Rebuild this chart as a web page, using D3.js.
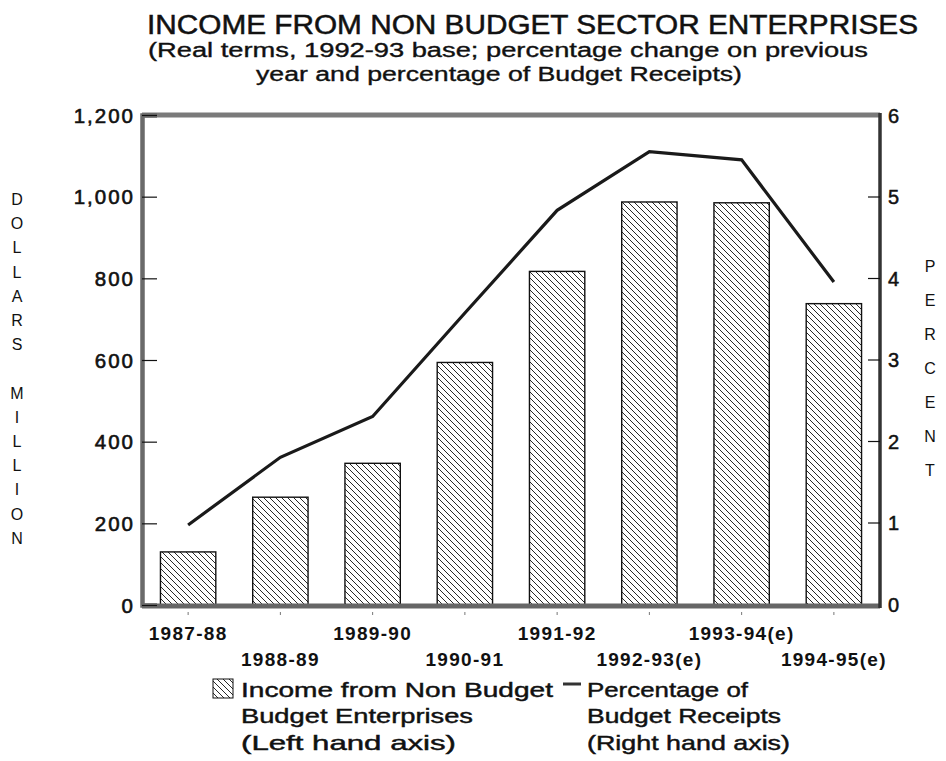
<!DOCTYPE html>
<html>
<head>
<meta charset="utf-8">
<script src="https://cdn.jsdelivr.net/npm/d3@7/dist/d3.min.js"></script>
<style>
  html, body { margin: 0; padding: 0; background: #fff; }
  svg { display: block; font-family: "Liberation Sans", Arial, Helvetica, sans-serif; }
</style>
</head>
<body>
<svg id="chart" width="946" height="761"></svg>
<script>
// Financial years shown along the bottom axis
const years = ["1987-88", "1988-89", "1989-90", "1990-91", "1991-92",
               "1992-93(e)", "1993-94(e)", "1994-95(e)"];
// Income from non budget sector enterprises, $ million (left axis)
const income = [130, 264, 347, 594, 817, 987, 985, 738];
// Percentage of budget receipts (right axis)
const pctReceipts = [0.97, 1.8, 2.3, 3.57, 4.83, 5.55, 5.45, 3.95];
// Axis tick values
const leftTicks = [0, 200, 400, 600, 800, 1000, 1200];
const rightTicks = [0, 1, 2, 3, 4, 5, 6];

const svg = d3.select("#chart");
const plot = { left: 142, right: 880, top: 115, bottom: 605 };
const ink = "#111";

const x = d3.scaleBand().domain(years)
  .range([plot.left, plot.right]).paddingInner(0.4).paddingOuter(0.2);
const yL = d3.scaleLinear().domain([0, 1200]).range([plot.bottom, plot.top]);
const yR = d3.scaleLinear().domain([0, 6]).range([plot.bottom - 1, plot.top]);
const cx = d => x(d) + x.bandwidth() / 2;

// Diagonal hatch used for the bars and the legend swatch
const defs = svg.append("defs");
const pat = defs.append("pattern").attr("id", "hatch")
  .attr("patternUnits", "userSpaceOnUse").attr("width", 6).attr("height", 6);
pat.append("rect").attr("width", 6).attr("height", 6).attr("fill", "#fff");
pat.append("path").attr("d", "M-1,-1 L7,7 M-4,2 L4,10 M2,-4 L10,4")
  .attr("stroke", ink).attr("stroke-width", 0.9);

// Text helper: fixed width lines, slightly heavier strokes
function label(g, t, xx, yy, size, width, opts = {}) {
  const el = g.append("text").attr("x", xx).attr("y", yy)
    .attr("font-size", size).attr("fill", ink)
    .attr("stroke", ink).attr("stroke-width", opts.stroke ?? 0.35)
    .text(t);
  if (width) el.attr("textLength", width).attr("lengthAdjust", opts.adjust || "spacingAndGlyphs");
  if (opts.anchor) el.attr("text-anchor", opts.anchor);
  return el;
}

// Title block
const title = svg.append("g");
label(title, "INCOME FROM NON BUDGET SECTOR ENTERPRISES", 147, 33.5, 27, 771, { stroke: 0.5 });
label(title, "(Real terms, 1992-93 base; percentage change on previous", 148, 57, 19.5, 720);
label(title, "year and percentage of Budget Receipts)", 256, 81, 19.5, 486);

// Bars
svg.append("g").selectAll("rect").data(years).join("rect")
  .attr("x", d => x(d))
  .attr("width", x.bandwidth())
  .attr("y", (d, i) => yL(income[i]))
  .attr("height", (d, i) => yL(0) - yL(income[i]))
  .attr("fill", "url(#hatch)")
  .attr("stroke", ink).attr("stroke-width", 1.4);

// Plot frame
svg.append("line").attr("x1", plot.left).attr("x2", plot.right)
  .attr("y1", plot.top).attr("y2", plot.top)
  .attr("stroke", "#7a7a7a").attr("stroke-width", 5);
svg.append("line").attr("x1", plot.left).attr("x2", plot.right)
  .attr("y1", plot.bottom + 1).attr("y2", plot.bottom + 1)
  .attr("stroke", "#666").attr("stroke-width", 5);
svg.append("line").attr("x1", plot.right).attr("x2", plot.right)
  .attr("y1", plot.top - 2).attr("y2", plot.bottom + 3)
  .attr("stroke", "#333").attr("stroke-width", 3.5);

// Left axis: ticks point into the plot
const axL = svg.append("g").attr("transform", `translate(${plot.left},0)`)
  .call(d3.axisRight(yL).tickValues(leftTicks).tickSize(15).tickFormat(() => ""));
axL.select(".domain").attr("stroke", "#6a6a6a").attr("stroke-width", 4.5);
axL.selectAll(".tick line").attr("stroke", ink).attr("stroke-width", 1.2);
svg.append("g").selectAll("text").data(leftTicks).join("text")
  .attr("x", 135).attr("y", d => yL(d) + 7.5)
  .attr("text-anchor", "end").attr("font-size", 20.5)
  .attr("letter-spacing", 2).attr("stroke", ink).attr("stroke-width", 0.6)
  .attr("fill", ink).text(d => d3.format(",")(d));

// Right axis: ticks point into the plot
const axR = svg.append("g").attr("transform", `translate(${plot.right},0)`)
  .call(d3.axisLeft(yR).tickValues(rightTicks.slice(1, 6)).tickSize(12).tickFormat(() => ""));
axR.select(".domain").remove();
axR.selectAll(".tick line").attr("stroke", ink).attr("stroke-width", 1.2);
svg.append("g").selectAll("text").data(rightTicks).join("text")
  .attr("x", 888).attr("y", d => yR(d) + 7.5)
  .attr("font-size", 20).attr("stroke", ink).attr("stroke-width", 0.5)
  .attr("fill", ink).text(d => d);

// Bottom category labels, staggered on two rows
svg.append("g").selectAll("line").data(years).join("line")
  .attr("x1", cx).attr("x2", cx)
  .attr("y1", plot.bottom + 7).attr("y2", plot.bottom + 10)
  .attr("stroke", "#777").attr("stroke-width", 1);
svg.append("g").selectAll("text").data(years).join("text")
  .attr("x", cx)
  .attr("y", (d, i) => i % 2 === 0 ? 640 : 666)
  .attr("text-anchor", "middle").attr("font-size", 19).attr("font-weight", "bold")
  .attr("letter-spacing", 1.3)
  .attr("fill", ink).text(d => d);

// Percentage line
const line = d3.line()
  .x((d, i) => cx(years[i]))
  .y(d => yR(d));
svg.append("path").datum(pctReceipts)
  .attr("d", line).attr("fill", "none")
  .attr("stroke", "#1a1a1a").attr("stroke-width", 3.2)
  .attr("stroke-linejoin", "miter");

// Vertical axis titles
const leftTitle = ["D","O","L","L","A","R","S","","M","I","L","L","I","O","N"];
svg.append("g").selectAll("text").data(leftTitle).join("text")
  .attr("x", 17).attr("y", (d, i) => 205 + i * 24.2)
  .attr("text-anchor", "middle").attr("font-size", 16)
  .attr("fill", ink).text(d => d);
const rightTitle = ["P","E","R","C","E","N","T"];
svg.append("g").selectAll("text").data(rightTitle).join("text")
  .attr("x", 930).attr("y", (d, i) => 272 + i * 34)
  .attr("text-anchor", "middle").attr("font-size", 16)
  .attr("fill", ink).text(d => d);

// Legend
const lg = svg.append("g");
lg.append("rect").attr("x", 213).attr("y", 679).attr("width", 20).attr("height", 19)
  .attr("fill", "url(#hatch)").attr("stroke", ink).attr("stroke-width", 1);
[["Income from Non Budget", 697, 312], ["Budget Enterprises", 723, 232], ["(Left hand axis)", 750, 215]]
  .forEach(([t, yy, w]) => label(lg, t, 241, yy, 21, w, { stroke: 0.45 }));
lg.append("line").attr("x1", 563).attr("x2", 581).attr("y1", 684).attr("y2", 684)
  .attr("stroke", "#333").attr("stroke-width", 3);
[["Percentage of", 697, 161], ["Budget Receipts", 723, 194], ["(Right hand axis)", 750, 203]]
  .forEach(([t, yy, w]) => label(lg, t, 587, yy, 21, w, { stroke: 0.45 }));
</script>
</body>
</html>
